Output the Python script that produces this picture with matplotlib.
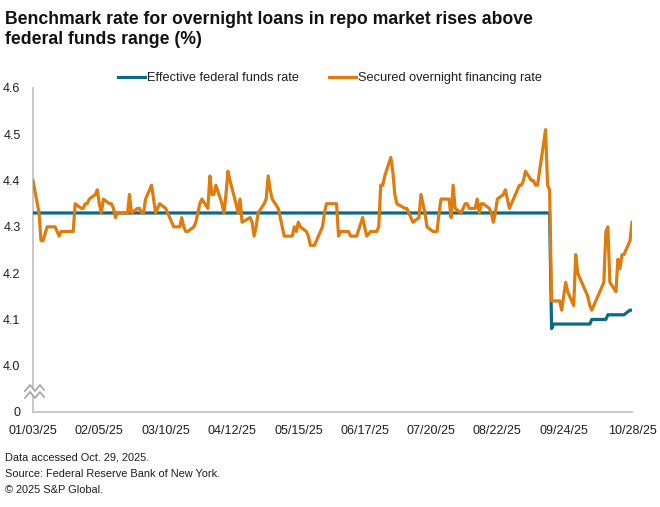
import matplotlib
matplotlib.use("Agg")
import matplotlib.pyplot as plt
from matplotlib.lines import Line2D
from matplotlib.patches import Polygon
import pandas as pd

plt.rcParams['font.family'] = ['Liberation Sans', 'DejaVu Sans']

# ---- data (business days, 2025) ----
month_days = {
    1: [3, 6, 7, 8, 10, 13, 14, 15, 16, 17, 21, 22, 23, 24, 27, 28, 29, 30, 31],
    2: [3, 4, 5, 6, 7, 10, 11, 12, 13, 14, 18, 19, 20, 21, 24, 25, 26, 27, 28],
    3: [3, 4, 5, 6, 7, 10, 11, 12, 13, 14, 17, 18, 19, 20, 21, 24, 25, 26, 27, 28, 31],
    4: [1, 2, 3, 4, 7, 8, 9, 10, 11, 14, 15, 16, 17, 21, 22, 23, 24, 25, 28, 29, 30],
    5: [1, 2, 5, 6, 7, 8, 9, 12, 13, 14, 15, 16, 19, 20, 21, 22, 23, 27, 28, 29, 30],
    6: [2, 3, 4, 5, 6, 9, 10, 11, 12, 13, 16, 17, 18, 20, 23, 24, 25, 26, 27, 30],
    7: [1, 2, 3, 7, 8, 9, 10, 11, 14, 15, 16, 17, 18, 21, 22, 23, 24, 25, 28, 29, 30, 31],
    8: [1, 4, 5, 6, 7, 8, 11, 12, 13, 14, 15, 18, 19, 20, 21, 22, 25, 26, 27, 28, 29],
    9: [2, 3, 4, 5, 8, 9, 10, 11, 12, 15, 16, 17, 18, 19, 22, 23, 24, 25, 26, 29, 30],
    10: [1, 2, 3, 6, 7, 8, 9, 10, 14, 15, 16, 17, 20, 21, 22, 23, 24, 27, 28],
}

sofr_by_month = {
    1: [4.40, 4.33, 4.27, 4.27, 4.30, 4.30, 4.30, 4.29, 4.28, 4.29, 4.29, 4.29, 4.29, 4.35, 4.34, 4.34, 4.35, 4.35, 4.36],
    2: [4.37, 4.38, 4.35, 4.33, 4.36, 4.35, 4.35, 4.34, 4.32, 4.33, 4.33, 4.33, 4.37, 4.33, 4.34, 4.34, 4.33, 4.33, 4.36],
    3: [4.39, 4.36, 4.33, 4.34, 4.35, 4.34, 4.33, 4.32, 4.31, 4.30, 4.30, 4.32, 4.30, 4.29, 4.29, 4.30, 4.31, 4.33, 4.35, 4.36, 4.34],
    4: [4.41, 4.37, 4.37, 4.39, 4.35, 4.33, 4.37, 4.42, 4.40, 4.35, 4.33, 4.36, 4.31, 4.32, 4.31, 4.28, 4.30, 4.33, 4.35, 4.36, 4.41],
    5: [4.38, 4.36, 4.34, 4.32, 4.30, 4.28, 4.28, 4.28, 4.30, 4.29, 4.31, 4.30, 4.29, 4.28, 4.26, 4.26, 4.26, 4.30, 4.33, 4.35, 4.35],
    6: [4.35, 4.35, 4.28, 4.29, 4.29, 4.29, 4.28, 4.28, 4.28, 4.28, 4.32, 4.30, 4.28, 4.29, 4.29, 4.30, 4.39, 4.39, 4.41, 4.45],
    7: [4.42, 4.37, 4.35, 4.34, 4.34, 4.33, 4.32, 4.31, 4.32, 4.37, 4.35, 4.33, 4.30, 4.29, 4.29, 4.29, 4.33, 4.36, 4.36, 4.36, 4.32, 4.39],
    8: [4.34, 4.33, 4.34, 4.35, 4.35, 4.34, 4.34, 4.36, 4.33, 4.35, 4.35, 4.34, 4.33, 4.31, 4.33, 4.36, 4.37, 4.38, 4.36, 4.34, 4.35],
    9: [4.39, 4.39, 4.40, 4.42, 4.40, 4.40, 4.39, 4.39, 4.42, 4.51, 4.39, 4.38, 4.14, 4.14, 4.14, 4.12, 4.15, 4.18, 4.16, 4.13, 4.24],
    10: [4.20, 4.19, 4.18, 4.15, 4.13, 4.12, 4.13, 4.14, 4.18, 4.29, 4.30, 4.18, 4.16, 4.23, 4.21, 4.24, 4.24, 4.27, 4.31],
}

effr_by_month = {
    1: [4.33, 4.33, 4.33, 4.33, 4.33, 4.33, 4.33, 4.33, 4.33, 4.33, 4.33, 4.33, 4.33, 4.33, 4.33, 4.33, 4.33, 4.33, 4.33],
    2: [4.33, 4.33, 4.33, 4.33, 4.33, 4.33, 4.33, 4.33, 4.33, 4.33, 4.33, 4.33, 4.33, 4.33, 4.33, 4.33, 4.33, 4.33, 4.33],
    3: [4.33, 4.33, 4.33, 4.33, 4.33, 4.33, 4.33, 4.33, 4.33, 4.33, 4.33, 4.33, 4.33, 4.33, 4.33, 4.33, 4.33, 4.33, 4.33, 4.33, 4.33],
    4: [4.33, 4.33, 4.33, 4.33, 4.33, 4.33, 4.33, 4.33, 4.33, 4.33, 4.33, 4.33, 4.33, 4.33, 4.33, 4.33, 4.33, 4.33, 4.33, 4.33, 4.33],
    5: [4.33, 4.33, 4.33, 4.33, 4.33, 4.33, 4.33, 4.33, 4.33, 4.33, 4.33, 4.33, 4.33, 4.33, 4.33, 4.33, 4.33, 4.33, 4.33, 4.33, 4.33],
    6: [4.33, 4.33, 4.33, 4.33, 4.33, 4.33, 4.33, 4.33, 4.33, 4.33, 4.33, 4.33, 4.33, 4.33, 4.33, 4.33, 4.33, 4.33, 4.33, 4.33],
    7: [4.33, 4.33, 4.33, 4.33, 4.33, 4.33, 4.33, 4.33, 4.33, 4.33, 4.33, 4.33, 4.33, 4.33, 4.33, 4.33, 4.33, 4.33, 4.33, 4.33, 4.33, 4.33],
    8: [4.33, 4.33, 4.33, 4.33, 4.33, 4.33, 4.33, 4.33, 4.33, 4.33, 4.33, 4.33, 4.33, 4.33, 4.33, 4.33, 4.33, 4.33, 4.33, 4.33, 4.33],
    9: [4.33, 4.33, 4.33, 4.33, 4.33, 4.33, 4.33, 4.33, 4.33, 4.33, 4.33, 4.33, 4.08, 4.09, 4.09, 4.09, 4.09, 4.09, 4.09, 4.09, 4.09],
    10: [4.09, 4.09, 4.09, 4.09, 4.09, 4.10, 4.10, 4.10, 4.10, 4.10, 4.11, 4.11, 4.11, 4.11, 4.11, 4.11, 4.11, 4.12, 4.12],
}

tick_labels_x = ["01/03/25", "02/05/25", "03/10/25", "04/12/25", "05/15/25",
                 "06/17/25", "07/20/25", "08/22/25", "09/24/25", "10/28/25"]
y_ticks = [3.9, 4.0, 4.1, 4.2, 4.3, 4.4, 4.5, 4.6]
y_tick_labels = ["0", "4.0", "4.1", "4.2", "4.3", "4.4", "4.5", "4.6"]

series_names = ["Effective federal funds rate", "Secured overnight financing rate"]

# ---- build frame ----
dates, sofr, effr = [], [], []
for m in range(1, 11):
    assert len(month_days[m]) == len(sofr_by_month[m]) == len(effr_by_month[m]), m
    for d, s, e in zip(month_days[m], sofr_by_month[m], effr_by_month[m]):
        dates.append(pd.Timestamp(2025, m, d))
        sofr.append(s)
        effr.append(e)
df = pd.DataFrame({"date": dates, "sofr": sofr, "effr": effr})

W, H = 660, 507
fig = plt.figure(figsize=(W / 100, H / 100), dpi=100)
L, R, T, B = 33, 632, 88, 412
ax = fig.add_axes([L / W, 1 - B / H, (R - L) / W, (B - T) / H])

BLUE = "#0b6a86"
ORANGE = "#e07b0e"
TXT = "#1e1e1e"

ax.plot(df["date"], df["effr"], color=BLUE, lw=2.3, solid_joinstyle="round", label=series_names[0], zorder=3)
ax.plot(df["date"], df["sofr"], color=ORANGE, lw=2.3, solid_joinstyle="round", label=series_names[1], zorder=4)

ax.set_ylim(3.9, 4.6)
ax.set_yticks(y_ticks)
ax.set_yticklabels(y_tick_labels)
tick_dates = [pd.Timestamp(pd.to_datetime(t, format="%m/%d/%y")) for t in tick_labels_x]
ax.set_xlim(tick_dates[0], tick_dates[-1])
ax.set_xticks(tick_dates)
ax.set_xticklabels(tick_labels_x)

for s in ["top", "right"]:
    ax.spines[s].set_visible(False)
for s in ["left", "bottom"]:
    ax.spines[s].set_color("#c4c4c4")
    ax.spines[s].set_linewidth(1.3)
ax.tick_params(axis="both", length=0, labelsize=9, colors=TXT)
ax.tick_params(axis="y", pad=9)
ax.tick_params(axis="x", pad=9)

# legend
leg = fig.legend(loc="center", bbox_to_anchor=(0.5, 1 - 78 / H), ncol=2, frameon=False,
                 fontsize=9.2, handlelength=2.1, handletextpad=0.15, columnspacing=2.4,
                 labelcolor=TXT)

# axis break marker
def fx(px):
    return px / W
def fy(py):
    return 1 - py / H
xs = [25, 30, 35, 40, 44]
top = [391, 385, 391, 385, 390]
bot = [398, 392, 398, 392, 397]
poly = Polygon([(fx(x), fy(y)) for x, y in zip(xs, top)] + [(fx(x), fy(y)) for x, y in zip(xs[::-1], bot[::-1])],
               closed=True, transform=fig.transFigure, facecolor="white", edgecolor="none", zorder=10)
fig.patches.append(poly)
for ys in (top, bot):
    fig.add_artist(Line2D([fx(x) for x in xs], [fy(y) for y in ys], color="#a8a8a8", lw=1.3,
                          transform=fig.transFigure, zorder=11))

# title
fig.text(5 / W, 1 - 11 / H, "Benchmark rate for overnight loans in repo market rises above\nfederal funds range (%)",
         ha="left", va="top", fontsize=12.7, fontweight="bold", color="#111111", linespacing=1.2)

# footer
foot = ["Data accessed Oct. 29, 2025.", "Source: Federal Reserve Bank of New York.", "\u00a9 2025 S&P Global."]
for i, t in enumerate(foot):
    fig.text(5 / W, 1 - (458 + 16 * i) / H, t, ha="left", va="center", fontsize=7.9, color=TXT)

fig.savefig("out.png", dpi=100)
